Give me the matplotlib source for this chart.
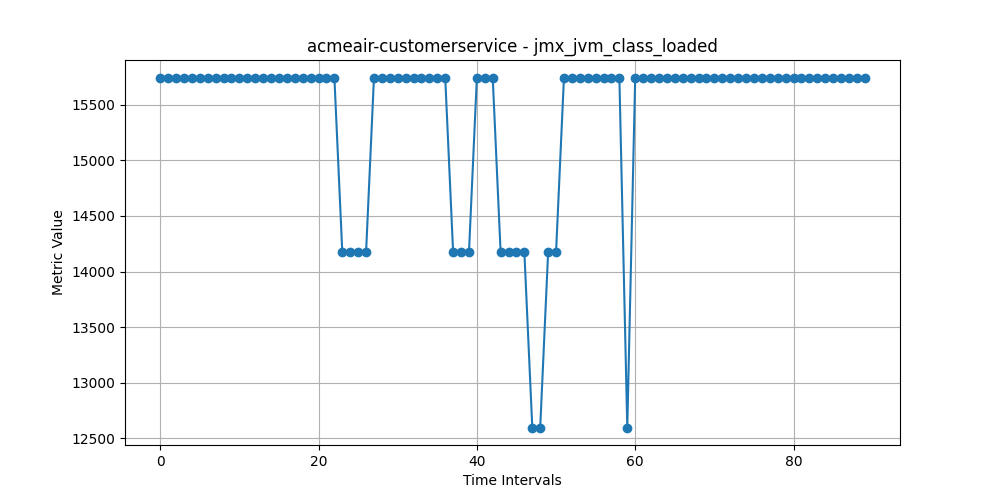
import matplotlib
matplotlib.use("Agg")
import matplotlib.pyplot as plt

HIGH = 15745
MID = 14172
LOW = 12598

values = ([HIGH] * 23 + [MID] * 4 + [HIGH] * 10 + [MID] * 3 + [HIGH] * 3 +
          [MID] * 4 + [LOW] * 2 + [MID] * 2 + [HIGH] * 8 + [LOW] + [HIGH] * 30)
x = list(range(len(values)))

fig, ax = plt.subplots(figsize=(10, 5), dpi=100)
ax.plot(x, values, marker='o', color='#1f77b4')
ax.set_title('acmeair-customerservice - jmx_jvm_class_loaded')
ax.set_xlabel('Time Intervals')
ax.set_ylabel('Metric Value')
ax.grid(True)
fig.savefig('out.png')
